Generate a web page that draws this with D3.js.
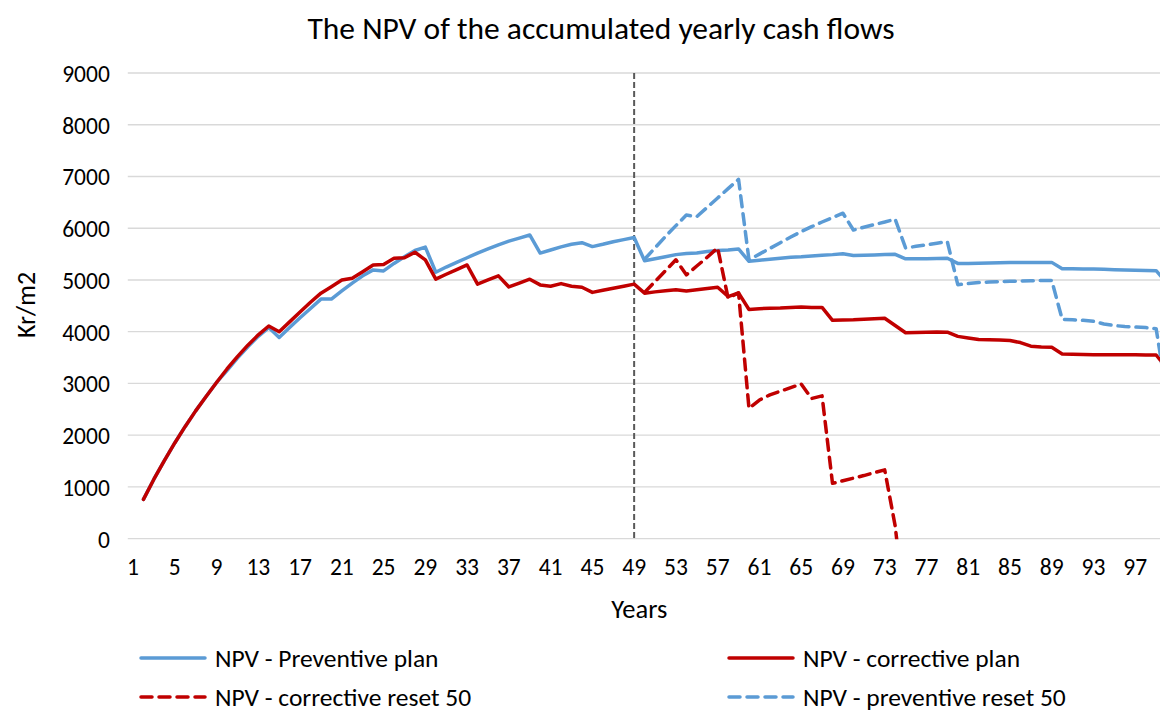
<!DOCTYPE html>
<html>
<head>
<meta charset="utf-8">
<script src="https://cdn.jsdelivr.net/npm/d3@7"></script>
<style>
  html, body { margin: 0; padding: 0; background: #fff; }
  svg { display: block; }
  text { font-family: Carlito, Calibri, Lato, "Open Sans", sans-serif; fill: #000; }
</style>
</head>
<body>
<svg id="chart" width="1160" height="713"></svg>
<script>
// ---------- DATA ----------
const years = d3.range(1, 101);                 // categories 1..100
const xTickLabels = d3.range(1, 101, 4);         // 1,5,9,...,97
const yTicks = [0, 1000, 2000, 3000, 4000, 5000, 6000, 7000, 8000, 9000];
const title = "The NPV of the accumulated yearly cash flows";
const xTitle = "Years";
const yTitle = "Kr/m2";
const resetYear = 49;

// NPV - Preventive plan (years 1..100)
const preventivePlan = [
  null, 760, 1150, 1510, 1850, 2170, 2470, 2750, 3020, 3250,
  3490, 3710, 3910, 4080, 3890, 4080, 4270, 4450, 4630, 4630,
  4790, 4940, 5080, 5195, 5175, 5320, 5450, 5570, 5635, 5150,
  5250, 5340, 5430, 5520, 5600, 5680, 5750, 5810, 5870, 5520,
  5580, 5640, 5690, 5720, 5645, 5690, 5740, 5780, 5820, 5370,
  5410, 5450, 5490, 5510, 5520, 5550, 5570, 5580, 5600, 5360,
  5380, 5400, 5420, 5440, 5450, 5465, 5480, 5490, 5505, 5475,
  5480, 5485, 5490, 5495, 5410, 5410, 5410, 5415, 5420, 5320,
  5320, 5325, 5330, 5335, 5340, 5340, 5340, 5340, 5340, 5215,
  5215, 5210, 5210, 5205, 5200, 5195, 5190, 5185, 5180, 4950
];

// NPV - corrective plan
const correctivePlan = [
  null, 760, 1150, 1510, 1850, 2170, 2470, 2750, 3020, 3280,
  3520, 3740, 3940, 4110, 4000, 4190, 4380, 4570, 4745, 4870,
  5000, 5035, 5160, 5290, 5300, 5420, 5430, 5535, 5390, 5015,
  5110, 5200, 5290, 4920, 5000, 5080, 4865, 4940, 5015, 4905,
  4880, 4930, 4880, 4860, 4760, 4800, 4840, 4880, 4920, 4745,
  4770, 4790, 4810, 4785, 4810, 4835, 4860, 4680, 4750, 4430,
  4445, 4455, 4460, 4470, 4480, 4470, 4470, 4220, 4225, 4230,
  4240, 4250, 4260, 4120, 3980, 3985, 3990, 3995, 3990, 3910,
  3880, 3850, 3845, 3840, 3830, 3790, 3720, 3705, 3700, 3570,
  3565, 3560, 3555, 3555, 3555, 3555, 3555, 3550, 3550, 3300
];

// NPV - corrective reset 50 (years 50..75)
const correctiveReset = [
  4760, 4970, 5180, 5390, 5100, 5270, 5440, 5620, 4650, 4750,
  2520, 2680, 2780, 2850, 2920, 2990, 2710, 2760, 1070, 1120,
  1170, 1220, 1275, 1330, 250, -1500
];

// NPV - preventive reset 50 (years 50..100)
const preventiveReset = [
  5400, 5620, 5840, 6050, 6255, 6225, 6405, 6585, 6765, 6945,
  5390, 5500, 5610, 5720, 5830, 5935, 6030, 6120, 6205, 6290,
  5965, 6020, 6070, 6120, 6175, 5620, 5650, 5680, 5710, 5740,
  4910, 4930, 4950, 4960, 4970, 4975, 4980, 4985, 4990, 4990,
  4240, 4230, 4220, 4200, 4150, 4120, 4100, 4090, 4080, 4060,
  2800
];
const resetStart = 50;

// ---------- CHART ----------
const svg = d3.select("#chart");
const plot = { left: 127.8, top: 73, width: 1044, height: 465.7 };

const x = d3.scaleBand().domain(years).range([plot.left, plot.left + plot.width]).padding(0);
const cx = d => x(d) + x.bandwidth() / 2;
const y = d3.scaleLinear().domain([0, 9000]).range([plot.top + plot.height, plot.top]);

const BLUE = "#5B9BD5", RED = "#C00000";

const toPoints = (arr, start) => arr.map((v, i) => ({ year: start + i, v }));
const series = [
  { name: "NPV - Preventive plan", color: BLUE, dashed: false, data: toPoints(preventivePlan, 1) },
  { name: "NPV - corrective plan", color: RED, dashed: false, data: toPoints(correctivePlan, 1) },
  { name: "NPV - corrective reset 50", color: RED, dashed: true, data: toPoints(correctiveReset, resetStart) },
  { name: "NPV - preventive reset 50", color: BLUE, dashed: true, data: toPoints(preventiveReset, resetStart) }
];

// gridlines
svg.append("g")
  .selectAll("line").data(yTicks).join("line")
  .attr("x1", plot.left).attr("x2", plot.left + plot.width)
  .attr("y1", d => y(d)).attr("y2", d => y(d))
  .attr("stroke", "#D9D9D9").attr("stroke-width", 1.3);

// y axis labels
const yAxis = svg.append("g")
  .attr("transform", `translate(${plot.left - 18},0)`)
  .call(d3.axisLeft(y).tickValues(yTicks).tickFormat(d3.format("d")).tickSize(0).tickPadding(0));
yAxis.select(".domain").remove();
yAxis.selectAll("text").attr("font-size", 23.5).attr("font-family", null).attr("fill", "#000").attr("dy", "0.36em");

// x axis labels
const xAxis = svg.append("g")
  .attr("transform", `translate(0,${plot.top + plot.height})`)
  .call(d3.axisBottom(x).tickValues(xTickLabels).tickSize(0).tickPadding(0));
xAxis.select(".domain").remove();
xAxis.selectAll("text").attr("font-size", 23.5).attr("font-family", null).attr("fill", "#000")
  .attr("y", 0).attr("dy", "1.55em");

// clip
svg.append("clipPath").attr("id", "clip")
  .append("rect").attr("x", plot.left).attr("y", plot.top - 20)
  .attr("width", plot.width).attr("height", plot.height + 20 + 0.5);

const line = d3.line().defined(d => d.v != null).x(d => cx(d.year)).y(d => y(d.v));

const lines = svg.append("g").attr("clip-path", "url(#clip)");

// vertical reset marker
lines.append("line")
  .attr("x1", cx(resetYear)).attr("x2", cx(resetYear))
  .attr("y1", y(9000)).attr("y2", y(0))
  .attr("stroke", "#595959").attr("stroke-width", 2).attr("stroke-dasharray", "6,3");

lines.selectAll("path.series").data(series).join("path")
  .attr("class", "series")
  .attr("d", d => line(d.data))
  .attr("fill", "none")
  .attr("stroke", d => d.color)
  .attr("stroke-width", 3.5)
  .attr("stroke-linejoin", "round")
  .attr("stroke-linecap", "round")
  .attr("stroke-dasharray", d => d.dashed ? "11,7" : null);

// titles
svg.append("text").attr("x", 601).attr("y", 39).attr("text-anchor", "middle")
  .attr("font-size", 31.5).text(title);
svg.append("text").attr("x", cx(50) - x.bandwidth() / 2).attr("y", 618).attr("text-anchor", "middle")
  .attr("font-size", 26.5).text(xTitle);
svg.append("text").attr("transform", "translate(35,305) rotate(-90)").attr("text-anchor", "middle")
  .attr("font-size", 26).text(yTitle);

// legend
const legendPos = [
  { lx: 139, ly: 658 }, { lx: 727, ly: 658 },
  { lx: 139, ly: 697 }, { lx: 727, ly: 697 }
];
const lg = svg.append("g").selectAll("g").data(series).join("g")
  .attr("transform", (d, i) => `translate(${legendPos[i].lx},${legendPos[i].ly})`);
lg.append("line").attr("x1", 2).attr("x2", 66).attr("y1", 0).attr("y2", 0)
  .attr("stroke", d => d.color).attr("stroke-width", 3.5).attr("stroke-linecap", "round")
  .attr("stroke-dasharray", d => d.dashed ? "11,7" : null);
lg.append("text").attr("x", 76).attr("y", 0).attr("dy", "0.36em")
  .attr("font-size", 25.5).text(d => d.name);
</script>
</body>
</html>
